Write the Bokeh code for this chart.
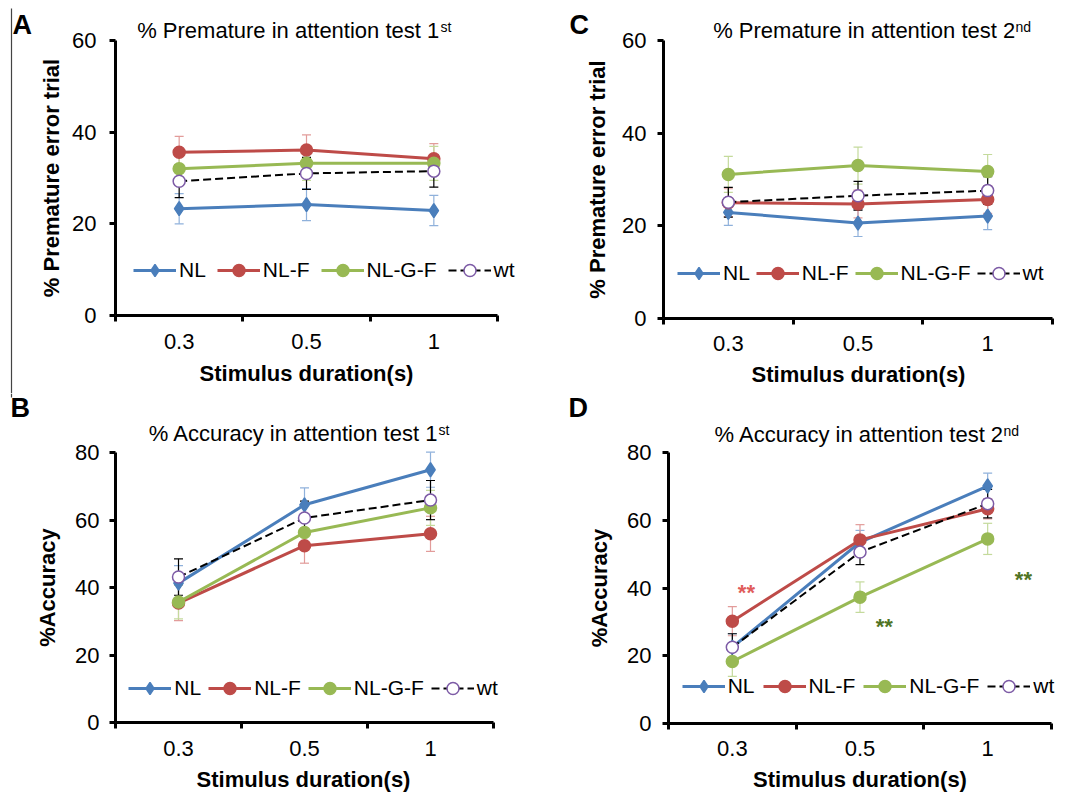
import numpy as np
from bokeh.plotting import figure
from bokeh.layouts import column, row
from bokeh.models import Range1d, FixedTicker, Legend, LegendItem, Label, Arrow
from bokeh.embed import file_html
from bokeh.resources import INLINE

# ---------------- data ----------------
durations = ["0.3", "0.5", "1"]
series_names = ["NL", "NL-F", "NL-G-F", "wt"]

# A: % premature, attention test 1st
prem1_nl = [23.3, 24.2, 22.9]
prem1_nl_err = [3.3, 3.5, 3.3]
prem1_nlf = [35.6, 36.1, 34.2]
prem1_nlf_err = [3.5, 3.3, 3.3]
prem1_nlgf = [32.0, 33.2, 33.2]
prem1_nlgf_err = [3.0, 3.7, 3.7]
prem1_wt = [29.3, 31.0, 31.5]
prem1_wt_err = [3.6, 3.5, 3.5]

# C: % premature, attention test 2nd
prem2_nl = [22.9, 20.6, 22.1]
prem2_nl_err = [2.8, 2.9, 2.9]
prem2_nlf = [25.0, 24.7, 25.7]
prem2_nlf_err = [3.0, 3.0, 3.0]
prem2_nlgf = [31.1, 33.0, 31.7]
prem2_nlgf_err = [3.9, 4.0, 3.7]
prem2_wt = [25.1, 26.5, 27.6]
prem2_wt_err = [3.2, 3.1, 3.0]

# B: % accuracy, attention test 1st
acc1_nl = [41.3, 64.5, 74.9]
acc1_nl_err = [5.2, 5.0, 5.2]
acc1_nlf = [35.4, 52.4, 55.9]
acc1_nlf_err = [5.2, 5.2, 5.2]
acc1_nlgf = [35.7, 56.3, 63.6]
acc1_nlgf_err = [5.0, 5.0, 5.2]
acc1_wt = [43.1, 60.6, 65.9]
acc1_wt_err = [5.4, 5.0, 5.8]

# D: % accuracy, attention test 2nd
acc2_nl = [22.5, 53.5, 70.1]
acc2_nl_err = [4.0, 3.5, 3.8]
acc2_nlf = [30.2, 54.2, 63.4]
acc2_nlf_err = [4.3, 4.5, 3.0]
acc2_nlgf = [18.3, 37.3, 54.5]
acc2_nlgf_err = [4.4, 4.5, 4.6]
acc2_wt = [22.5, 50.6, 64.9]
acc2_wt_err = [4.0, 3.7, 4.2]

# significance marks in D (position on category axis, value, colour)
sig_pos = [0.61, 1.69, 2.78]
sig_val = [38.8, 28.6, 42.6]
sig_col = ["#e05c5a", "#4f7424", "#4f7424"]

FONT = "Liberation Sans"

STY = {
    "NL": dict(color="#4a7ebb", err="#8fb1db", marker="diamond", size=14,
               fill="#4a7ebb", mline="#4a7ebb", dash="solid", lw=3),
    "NL-F": dict(color="#be4b48", err="#e29c9a", marker="circle", size=12,
                 fill="#be4b48", mline="#be4b48", dash="solid", lw=3),
    "NL-G-F": dict(color="#98b954", err="#c4da9c", marker="circle", size=12,
                   fill="#98b954", mline="#98b954", dash="solid", lw=3),
    "wt": dict(color="black", err="black", marker="circle", size=12,
               fill="white", mline="#7d5ba6", dash="8 4", lw=2),
}


def make_panel(fig_xy, size, frame, ymax, yticks, ylabel, values, errors,
               legend_px, legend_spacing, ytick_standoff, ylab_standoff, xlab_standoff,
               title_main, title_sup, title_px, sup_px, letter, letter_px,
               xtitle_px, extras=()):
    fx, fy = fig_xy
    w, h = size
    fl, fr, ft, fb = frame      # page pixels of x=0, x=3, y=ymax, y=0
    ncat = len(durations)

    def to_data(px, py):
        return ((px - fl) / (fr - fl) * ncat, (fb - py) / (fb - ft) * ymax)

    x0, y0 = to_data(fx, fy + h)
    x1, y1 = to_data(fx + w, fy)

    p = figure(width=w, height=h, x_range=Range1d(x0, x1), y_range=Range1d(y0, y1),
               output_backend="svg", toolbar_location=None, title_location=None,
               min_border=0, min_border_left=0, min_border_right=0,
               min_border_top=0, min_border_bottom=0)
    p.outline_line_color = None
    p.xgrid.visible = False
    p.ygrid.visible = False
    p.background_fill_color = "white"
    p.border_fill_color = "white"

    xs = [i + 0.5 for i in range(ncat)]

    # x axis (category-style: ticks between categories, labels at centres)
    xa = p.xaxis[0]
    xa.fixed_location = 0
    xa.bounds = (0, ncat)
    xa.ticker = FixedTicker(ticks=xs, minor_ticks=list(range(ncat + 1)))
    xa.major_label_overrides = {x: lab for x, lab in zip(xs, durations)}
    xa.major_tick_out = 0
    xa.major_tick_in = 0
    xa.minor_tick_out = 6
    xa.minor_tick_in = 0
    xa.minor_tick_line_width = 3
    xa.minor_tick_line_color = "black"
    xa.axis_line_width = 3
    xa.axis_line_color = "black"
    xa.major_label_text_font = FONT
    xa.major_label_text_font_size = "22px"
    xa.major_label_text_color = "black"
    xa.major_label_standoff = xlab_standoff

    ya = p.yaxis[0]
    ya.fixed_location = 0
    ya.bounds = (0, ymax)
    ya.ticker = FixedTicker(ticks=yticks, minor_ticks=[])
    ya.major_tick_out = 6
    ya.major_tick_in = 0
    ya.major_tick_line_width = 3
    ya.major_tick_line_color = "black"
    ya.minor_tick_out = 0
    ya.minor_tick_in = 0
    ya.axis_line_width = 3
    ya.axis_line_color = "black"
    ya.major_label_text_font = FONT
    ya.major_label_text_font_size = "22px"
    ya.major_label_text_color = "black"
    ya.major_label_standoff = ytick_standoff
    ya.axis_label = ylabel
    ya.axis_label_text_font = FONT
    ya.axis_label_text_font_size = "22px"
    ya.axis_label_text_font_style = "bold"
    ya.axis_label_text_color = "black"
    ya.axis_label_standoff = ylab_standoff

    # error bars first
    for name, v, e in zip(series_names, values, errors):
        s = STY[name]
        v = np.array(v)
        e = np.array(e)
        lw_err = 1.2
        p.segment(x0=xs, y0=v - e, x1=xs, y1=v + e, line_color=s["err"], line_width=lw_err)
        p.scatter(xs, v + e, marker="dash", size=9, line_color=s["err"], line_width=lw_err)
        p.scatter(xs, v - e, marker="dash", size=9, line_color=s["err"], line_width=lw_err)

    items = []
    for name, v in zip(series_names, values):
        s = STY[name]
        ln = p.line(xs, v, line_color=s["color"], line_width=s["lw"], line_dash=s["dash"])
        mk = p.scatter(xs, v, marker=s["marker"], size=s["size"], fill_color=s["fill"],
                       line_color=s["mline"], line_width=1.5)
        items.append(LegendItem(label=name, renderers=[ln, mk]))

    lx, ly = legend_px
    leg = Legend(items=items, orientation="horizontal",
                 location=(lx - fx, fy + h - ly - 15),
                 glyph_width=43, glyph_height=30, label_standoff=3,
                 spacing=legend_spacing, padding=0, margin=0,
                 background_fill_alpha=0, border_line_alpha=0,
                 label_text_font=FONT, label_text_font_size="21px",
                 label_text_color="black")
    p.add_layout(leg, "center")

    # titles and labels as text annotations
    tx, ty = to_data(*title_px)
    p.add_layout(Label(x=tx, y=ty, text=title_main, text_font=FONT, text_font_size="22px",
                       text_color="black", text_align="left", text_baseline="alphabetic"))
    sx, sy = to_data(*sup_px)
    p.add_layout(Label(x=sx, y=sy, text=title_sup, text_font=FONT, text_font_size="14px",
                       text_color="black", text_align="left", text_baseline="alphabetic"))
    lx2, ly2 = to_data(*letter_px)
    p.add_layout(Label(x=lx2, y=ly2, text=letter, text_font=FONT, text_font_size="27px",
                       text_font_style="bold", text_color="black", text_align="left",
                       text_baseline="alphabetic"))
    xx, xy = to_data(*xtitle_px)
    p.add_layout(Label(x=xx, y=xy, text="Stimulus duration(s)", text_font=FONT,
                       text_font_size="22px", text_font_style="bold", text_color="black",
                       text_align="center", text_baseline="alphabetic"))
    for fn in extras:
        fn(p, to_data)
    return p


def rule_top(p, to_data):
    x0, y0 = to_data(11, 8)
    x1, y1 = to_data(11, 393)
    p.add_layout(Arrow(x_start=x0, y_start=y0, x_end=x1, y_end=y1, start=None, end=None,
                       line_color="#444444", line_width=1.2))


def rule_bottom(p, to_data):
    x0, y0 = to_data(11, 393)
    x1, y1 = to_data(11, 397)
    p.add_layout(Arrow(x_start=x0, y_start=y0, x_end=x1, y_end=y1, start=None, end=None,
                       line_color="#444444", line_width=1.2))


def sig_marks(p, to_data):
    p.text(x=sig_pos, y=sig_val, text=["**"] * len(sig_pos), text_color=sig_col,
           text_font={"value": FONT}, text_font_size="22px", text_font_style="bold",
           text_align="center", text_baseline="alphabetic")


pA = make_panel((0, 0), (535, 393), (115, 497, 40, 315), 60, [0, 20, 40, 60],
                "% Premature error trial",
                [prem1_nl, prem1_nlf, prem1_nlgf, prem1_wt],
                [prem1_nl_err, prem1_nlf_err, prem1_nlgf_err, prem1_wt_err],
                (133, 270), 11, 13, 5, 12,
                "% Premature in attention test 1", "st", (136.7, 29.8), (440, 26.5),
                "A", (12, 24), (306, 372.5), extras=(rule_top,))

pC = make_panel((535, 0), (529, 393), (663, 1052, 40, 318), 60, [0, 20, 40, 60],
                "% Premature error trial",
                [prem2_nl, prem2_nlf, prem2_nlgf, prem2_wt],
                [prem2_nl_err, prem2_nlf_err, prem2_nlgf_err, prem2_wt_err],
                (677, 272.7), 6, 11, 9, 11,
                "% Premature in attention test 2", "nd", (712.7, 29.8), (1015, 26.5),
                "C", (569, 24), (858, 374.2))

pB = make_panel((0, 393), (535, 399), (115, 493, 452, 722), 80, [0, 20, 40, 60, 80],
                "%Accuracy",
                [acc1_nl, acc1_nlf, acc1_nlgf, acc1_wt],
                [acc1_nl_err, acc1_nlf_err, acc1_nlgf_err, acc1_wt_err],
                (128.3, 687.7), 7, 10, 12, 12,
                "% Accuracy in attention test 1", "st", (148.3, 432.5), (438, 429),
                "B", (10, 407), (303, 779), extras=(rule_bottom,))

pD = make_panel((535, 393), (529, 399), (668, 1051, 452, 723), 80, [0, 20, 40, 60, 80],
                "%Accuracy",
                [acc2_nl, acc2_nlf, acc2_nlgf, acc2_wt],
                [acc2_nl_err, acc2_nlf_err, acc2_nlgf_err, acc2_wt_err],
                (681.7, 686), 8, 11, 12, 11,
                "% Accuracy in attention test 2", "nd", (714, 434.2), (1003, 430.5),
                "D", (568, 407), (859.5, 779), extras=(sig_marks,))

layout = column(row(pA, pC), row(pB, pD))
open("out.html", "w").write(file_html(layout, INLINE))
